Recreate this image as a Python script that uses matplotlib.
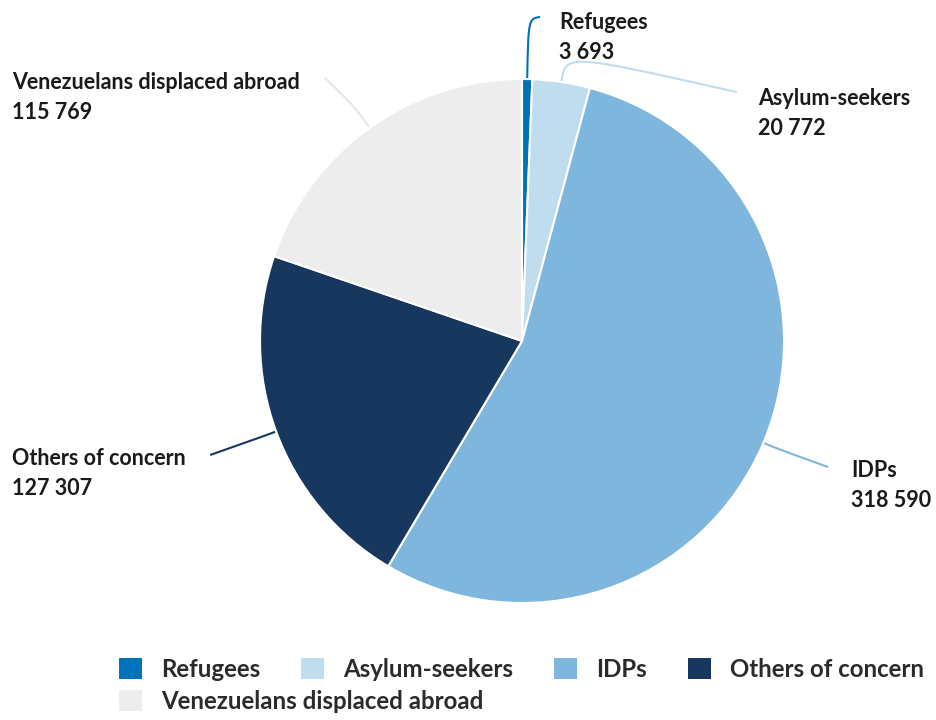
import numpy as np
import matplotlib.pyplot as plt
from matplotlib.patches import Patch
from matplotlib.path import Path
from matplotlib.patches import PathPatch

plt.rcParams['font.family'] = ['Lato', 'DejaVu Sans']

categories = ['Refugees', 'Asylum-seekers', 'IDPs', 'Others of concern', 'Venezuelans displaced abroad']
values = [3693, 20772, 318590, 127307, 115769]
value_labels = ['3 693', '20 772', '318 590', '127 307', '115 769']
colors = ['#0072BC', '#BFDDEF', '#7FB6DD', '#18375F', '#EDEDED']
line_colors = ['#0072BC', '#BFDDEF', '#7FB6DD', '#18375F', '#E6E6E6']

# label text anchors (top-left) and leader line end points, in pie radius units
text_pos = [(0.141, 1.255), (0.901, 0.965), (1.256, -0.455), (-1.947, -0.41), (-1.947, 1.025)]
line_end = [(0.069, 1.237), (0.82, 0.95), (1.168, -0.481), (-1.19, -0.435), (-0.752, 1.004)]
bend = [1.23, 1.11, 1.06, 1.06, 1.1]

fig = plt.figure(figsize=(9.36, 7.2), dpi=100)
ax = fig.add_axes([260 / 936, 117 / 720, 524 / 936, 524 / 720])

wedges, _ = ax.pie(values, colors=colors, startangle=90, counterclock=False, radius=1,
                   wedgeprops=dict(edgecolor='white', linewidth=1.5))
ax.set_xlim(-1, 1)
ax.set_ylim(-1, 1)
ax.set_aspect('equal')
ax.axis('off')

for i, w in enumerate(wedges):
    mid = np.deg2rad((w.theta1 + w.theta2) / 2)
    start = (np.cos(mid), np.sin(mid))
    ctrl = (bend[i] * np.cos(mid), bend[i] * np.sin(mid))
    path = Path([start, ctrl, ctrl, line_end[i]],
                [Path.MOVETO, Path.CURVE4, Path.CURVE4, Path.CURVE4])
    ax.add_patch(PathPatch(path, facecolor='none', edgecolor=line_colors[i], lw=1.5,
                           clip_on=False, zorder=0))
    ax.text(text_pos[i][0], text_pos[i][1], categories[i] + '\n' + value_labels[i],
            ha='left', va='top', fontsize=15.5, fontweight='bold', color='#1a1a1a',
            linespacing=1.5, clip_on=False)

handles = [Patch(facecolor=c, edgecolor='none') for c in colors]
leg_kw = dict(frameon=False, handlelength=0.95, handleheight=0.95,
              handletextpad=0.8, columnspacing=1.7, borderaxespad=0, borderpad=0,
              labelcolor='#2b2b2b', prop={'family': 'Lato', 'size': 17.3, 'weight': 'bold'})
fig.legend(handles[:4], categories[:4], loc='upper left', ncol=4,
           bbox_to_anchor=(119 / 936, 1 - 658 / 720), **leg_kw)
fig.legend(handles[4:], categories[4:], loc='upper left', ncol=1,
           bbox_to_anchor=(119 / 936, 1 - 690 / 720), **leg_kw)

fig.savefig('out.png', dpi=100, facecolor='white')
